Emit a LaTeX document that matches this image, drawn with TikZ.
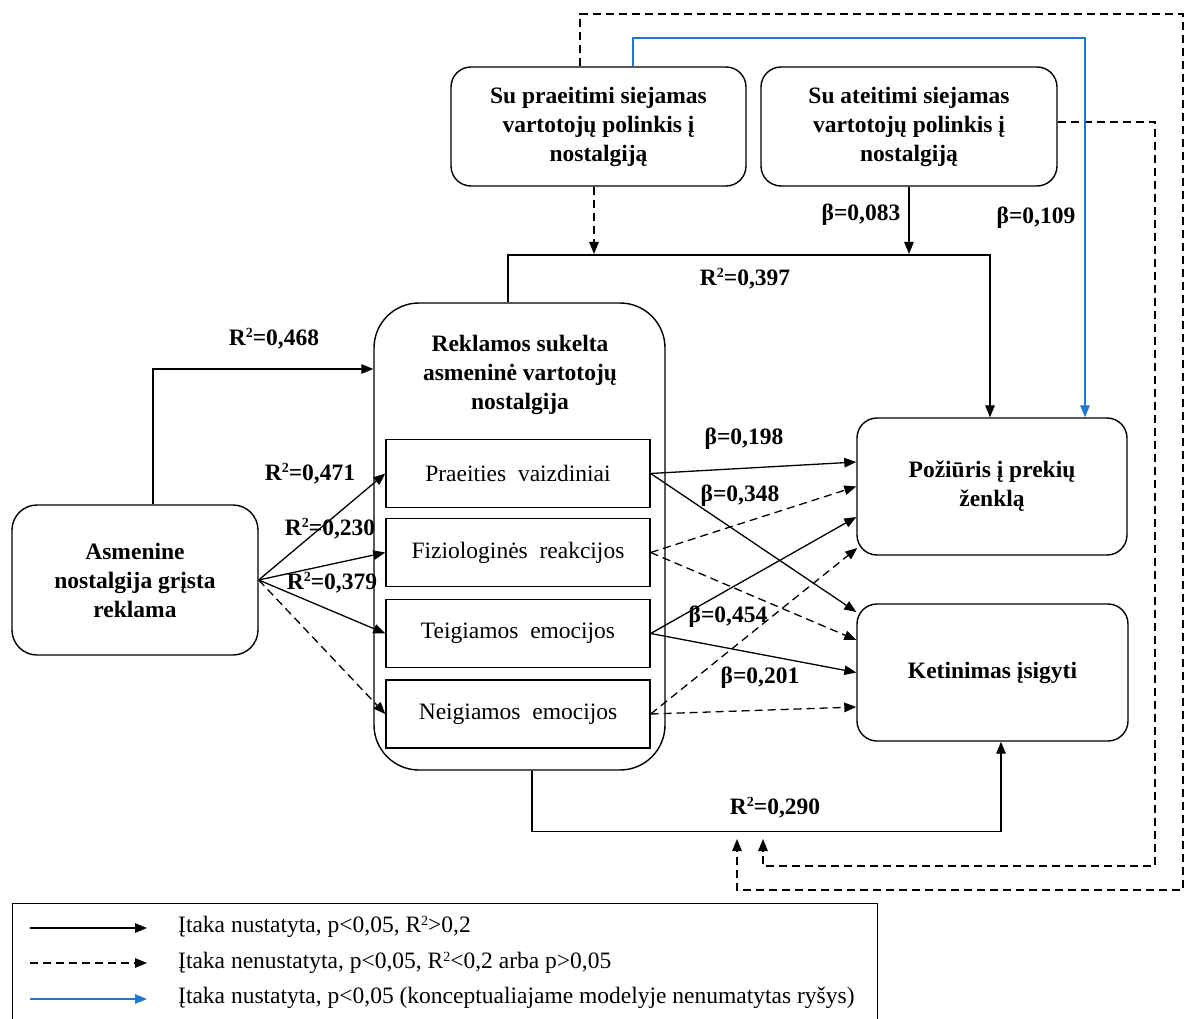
\documentclass[tikz,border=0pt]{standalone}
\usepackage{fontspec}
\setmainfont{Liberation Serif}
\usetikzlibrary{arrows.meta}
\definecolor{linkblue}{RGB}{30,120,205}
\newcommand{\sqr}{\raisebox{0.72ex}{\fontsize{14}{14}\selectfont 2}}
\begin{document}
\begin{tikzpicture}[x=1pt,y=-1pt,
  every node/.style={inner sep=0pt},
  box/.style={draw, line width=1.4pt, rounded corners=20pt, align=center,
    font=\bfseries\fontsize{23.5}{29}\selectfont},
  inbox/.style={draw, line width=1.4pt, minimum width=264pt, minimum height=68pt,
    font=\fontsize{23.5}{27}\selectfont},
  lab/.style={font=\bfseries\fontsize{23.5}{27}\selectfont},
  legtext/.style={anchor=west, font=\fontsize{23.5}{27}\selectfont},
  conn/.style={line width=1.3pt, -{Triangle[length=12pt,width=9.5pt]}},
  dconn/.style={conn, dash pattern=on 8pt off 5pt}]
\useasboundingbox (0,0) rectangle (1189,1019);
\clip (0,0) rectangle (1189,1019);

% boxes
\node[box, minimum width=295pt, minimum height=119pt] (pre) at (598.5,126.5)
  {Su praeitimi siejamas\\vartotojų polinkis į\\nostalgiją};
\node[box, minimum width=296pt, minimum height=119pt] (ate) at (909,126.5)
  {Su ateitimi siejamas\\vartotojų polinkis į\\nostalgiją};
\node[box, rounded corners=45pt, minimum width=291pt, minimum height=467pt] (rek) at (519.5,536.5) {};
\node[box, draw=none] (rektitle) at (520,375)
  {Reklamos sukelta\\asmeninė vartotojų\\nostalgija};
\node[inbox] (pv) at (518,473.5) {Praeities\ \ vaizdiniai};
\node[inbox] (fr) at (518,552.5) {Fiziologinės\ \ reakcijos};
\node[inbox] (te) at (518,633.5) {Teigiamos\ \ emocijos};
\node[inbox] (ne) at (518,714) {Neigiamos\ \ emocijos};
\node[box, rounded corners=25pt, minimum width=246pt, minimum height=150pt] (asm) at (135,580)
  {Asmenine\\nostalgija grįsta\\reklama};
\node[box, minimum width=270pt, minimum height=137pt] (poz) at (992,486.5)
  {Požiūris į prekių\\ženklą};
\node[box, minimum width=271pt, minimum height=137pt] (ket) at (992.5,672.5)
  {Ketinimas įsigyti};

% free ends below the bottom bar
\coordinate (lowA) at (737,839);
\coordinate (lowB) at (763,839);
\coordinate (barA) at (594,254);
\coordinate (barB) at (909,254);

% long feedback paths
\draw[dconn] ([xshift=-18.5pt]pre.north) -- (580,14) -- (1183,14) -- (1183,890) -- (737,890) -- (lowA);
\draw[dconn] ([yshift=4.5pt]ate.east) -- (1155,122) -- (1155,866) -- (763,866) -- (lowB);
\draw[conn, linkblue] ([xshift=34.5pt]pre.north) -- (633,38) -- (1085,38) -- ([xshift=93pt]poz.north);

% into the upper bar
\draw[dconn] ([xshift=-4.5pt]pre.south) -- (barA);
\draw[conn] (ate.south) -- (barB);
\draw[conn] ([xshift=-11.5pt]rek.north) -- (508,255) -- (990,255) -- ([xshift=-2pt]poz.north);

% ad to consumer nostalgia
\draw[conn] ([xshift=18pt]asm.north) |- ([yshift=167.5pt]rek.west);
\draw[conn] (asm.east) -- (pv.west);
\draw[conn] (asm.east) -- (fr.west);
\draw[conn] (asm.east) -- (te.west);
\draw[dconn] (asm.east) -- (ne.west);

% dimensions to outcomes
\draw[conn] (pv.east) -- ([yshift=24.5pt]poz.west);
\draw[conn] (pv.east) -- ([yshift=60.5pt]ket.west);
\draw[dconn] (fr.east) -- (poz.west);
\draw[dconn] (fr.east) -- ([yshift=32.5pt]ket.west);
\draw[conn] (te.east) -- ([yshift=-30.5pt]poz.west);
\draw[conn] (te.east) -- (ket.west);
\draw[dconn] (ne.east) -- ([xshift=1pt,yshift=-61.5pt]poz.west);
\draw[dconn] (ne.east) -- ([yshift=-34.5pt]ket.west);

% lower bar
\draw[conn] ([xshift=12.5pt]rek.south) -- ++(0,61) -| ([xshift=8.5pt]ket.south);

% coefficients
\node[lab] (l468) at (274,339) {R\sqr=0,468};
\node[lab] (l397) at (745,279) {R\sqr=0,397};
\node[lab] (l083) at (861,215) {β=0,083};
\node[lab] (l109) at (1036,218) {β=0,109};
\node[lab] (l471) at (310,474) {R\sqr=0,471};
\node[lab] (l230) at (330,529) {R\sqr=0,230};
\node[lab] (l379) at (332,583) {R\sqr=0,379};
\node[lab] (l198) at (744,439) {β=0,198};
\node[lab] (l348) at (740,496) {β=0,348};
\node[lab] (l454) at (728,617) {β=0,454};
\node[lab] (l201) at (760,678) {β=0,201};
\node[lab] (l290) at (775,808) {R\sqr=0,290};

% legend
\node[draw, line width=1.4pt, minimum width=865pt, minimum height=130pt, anchor=north west] (legend) at (12,903) {};
\coordinate (k1a) at (30,928);  \coordinate (k1b) at (147,928);
\coordinate (k2a) at (30,963);  \coordinate (k2b) at (147,963);
\coordinate (k3a) at (30,999);  \coordinate (k3b) at (147,999);
\draw[conn] (k1a) -- (k1b);
\draw[dconn] (k2a) -- (k2b);
\draw[conn, linkblue] (k3a) -- (k3b);
\node[legtext] (t1) at (178,927) {Įtaka nustatyta, p<0,05, R\sqr>0,2};
\node[legtext] (t2) at (178,963) {Įtaka nenustatyta, p<0,05, R\sqr<0,2 arba p>0,05};
\node[legtext] (t3) at (178,998) {Įtaka nustatyta, p<0,05 (konceptualiajame modelyje nenumatytas ryšys)};
\end{tikzpicture}
\end{document}
